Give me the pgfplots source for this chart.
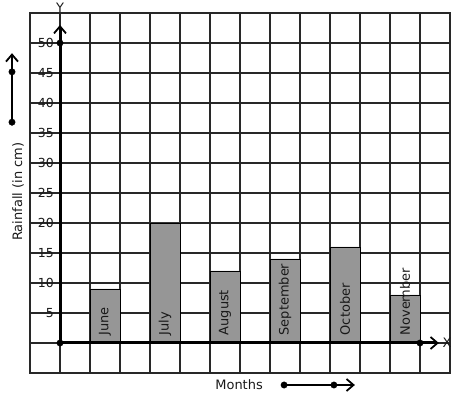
\documentclass[border=0pt]{standalone}
\usepackage{pgfplots}
\pgfplotsset{compat=1.18}
\usepackage{fontspec}
\setmainfont{DejaVu Sans}
\usetikzlibrary{arrows.meta}
\definecolor{gridc}{RGB}{40,40,40}
\definecolor{barc}{RGB}{150,150,150}
\begin{document}
\begin{tikzpicture}
\useasboundingbox (-30bp,-26bp) rectangle (427bp,373bp);
\begin{axis}[
  at={(0,0)}, anchor=south west,
  scale only axis, width=420bp, height=360bp,
  xmin=-1, xmax=13, ymin=-5, ymax=55,
  xtick={-1,...,13}, ytick={-5,0,...,55},
  xticklabel=\empty,
  yticklabels={{},{},5,10,15,20,25,30,35,40,45,50,{}},
  major tick length=0pt,
  grid=major,
  grid style={gridc, line width=1.2bp},
  axis line style={gridc, line width=1.2bp},
  yticklabel style={anchor=east, xshift=25bp, inner sep=1pt, text=black!90, font=\fontsize{12.5}{14}\selectfont},
  clip=false,
]
\addplot[ybar, bar width=1, bar shift=0pt, fill=barc, draw=black, line width=0.9bp] coordinates {(1.5,9) (3.5,20) (5.5,12) (7.5,14) (9.5,16) (11.5,8)};
% main axes
\addplot[black, line width=3bp, -{Straight Barb[length=7bp,width=12bp,line width=1.8bp]}] coordinates {(0,0) (0,53)};
\addplot[black, line width=3bp, -{Straight Barb[length=7bp,width=12bp,line width=1.8bp]}] coordinates {(0,0) (12.63,0)};
% side arrows
\addplot[black, line width=2.8bp, -{Straight Barb[length=7bp,width=12bp,line width=1.8bp]}] coordinates {(-1.6,36.8) (-1.6,48.3)};
\addplot[black, line width=2bp, -{Straight Barb[length=7bp,width=12bp,line width=1.8bp]}] coordinates {(7.47,-7) (9.83,-7)};
% dots
\addplot[only marks, mark=*, mark size=3.2bp, black] coordinates {(0,0) (0,50) (12,0) (-1.6,36.8) (-1.6,45.2) (7.47,-7) (9.13,-7)};
% labels
\begin{scope}[every node/.style={font=\fontsize{13}{15}\selectfont, text=black!90}]
\node[rotate=90, anchor=west] at (axis cs:1.5,0.7) {June};
\node[rotate=90, anchor=west] at (axis cs:3.5,0.7) {July};
\node[rotate=90, anchor=west] at (axis cs:5.5,0.7) {August};
\node[rotate=90, anchor=west] at (axis cs:7.5,0.7) {September};
\node[rotate=90, anchor=west] at (axis cs:9.5,0.7) {October};
\node[rotate=90, anchor=west] at (axis cs:11.5,0.7) {November};
\node at (axis cs:5.97,-7) {Months};
\node[rotate=90] at (axis cs:-1.4,25.2) {Rainfall (in cm)};
\node at (axis cs:12.9,0) {X};
\node at (axis cs:0,55.9) {Y};
\end{scope}
\end{axis}
\end{tikzpicture}
\end{document}
